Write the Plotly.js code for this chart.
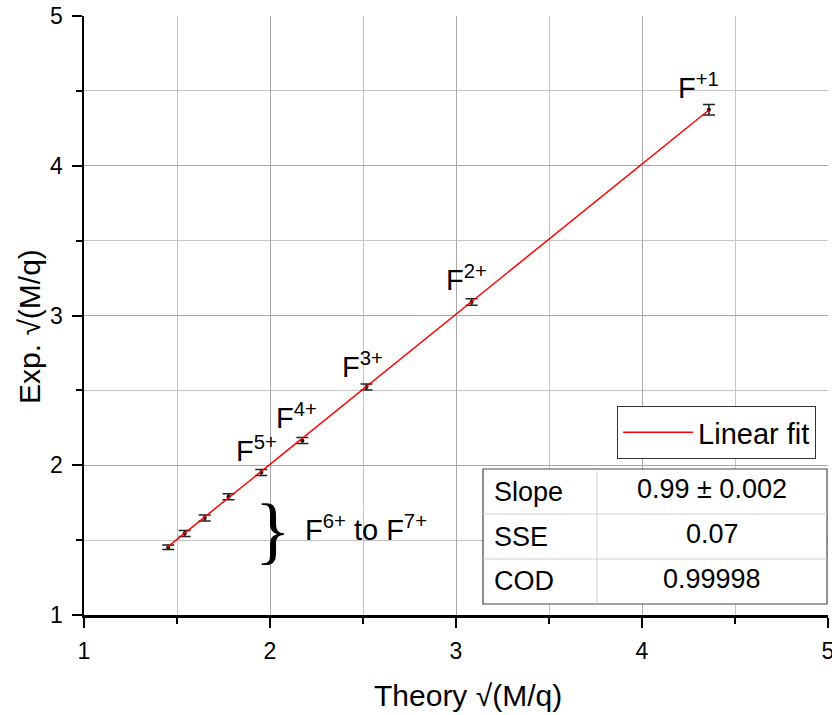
<!DOCTYPE html>
<html>
<head>
<meta charset="utf-8">
<script src="https://cdn.plot.ly/plotly-3.0.1.min.js"></script>
<style>html,body{margin:0;padding:0;background:#fff;}#chart{width:832px;height:715px;}</style>
</head>
<body>
<div id="chart"></div>
<script>
// Data
const theory = [1.453, 1.541, 1.649, 1.777, 1.953, 2.174, 2.519, 3.084, 4.360];
const experiment = [1.452, 1.545, 1.648, 1.790, 1.952, 2.165, 2.522, 3.090, 4.374];
const expError = [0.015, 0.02, 0.02, 0.02, 0.02, 0.02, 0.02, 0.022, 0.035];
const fitX = [1.447, 4.360];
const fitY = [1.452, 4.372];
const chargeLabels = ['F<sup>+1</sup>', 'F<sup>2+</sup>', 'F<sup>3+</sup>', 'F<sup>4+</sup>', 'F<sup>5+</sup>', 'F<sup>6+</sup> to F<sup>7+</sup>'];
const labelX = [4.306, 3.054, 2.495, 2.145, 1.925, 2.516];
const labelY = [4.406, 3.124, 2.543, 2.202, 1.982, 1.454];
const tableNames = ['Slope', 'SSE', 'COD'];
const tableValues = ['0.99 ± 0.002', '0.07', '0.99998'];
const xTitle = 'Theory √(M/q)';
const yTitle = 'Exp. √(M/q)';

const FONT = '"Liberation Sans", Arial, sans-serif';

const traces = [
  {
    x: theory, y: experiment, type: 'scatter', mode: 'markers',
    marker: {color: '#000', size: 4},
    error_y: {type: 'data', array: expError, visible: true, color: '#222', thickness: 1.5, width: 6},
    showlegend: false, name: 'Data'
  },
  {
    x: fitX, y: fitY, type: 'scatter', mode: 'lines',
    line: {color: '#ff0000', width: 1.5},
    name: 'Linear fit', showlegend: true
  }
];

// table geometry in paper coordinates
const tX0 = 0.5363, tX1 = 0.9987, tXc = 0.6895;
const tYs = [0.2437, 0.1686, 0.0935, 0.0184];

const shapes = [
  {type: 'rect', xref: 'paper', yref: 'paper', x0: tX0, x1: tX1, y0: tYs[3], y1: tYs[0],
   fillcolor: '#fff', line: {color: '#444', width: 1.2}, layer: 'above'},
  {type: 'line', xref: 'paper', yref: 'paper', x0: tX0, x1: tX1, y0: tYs[1], y1: tYs[1],
   line: {color: '#d0d0d0', width: 1}, layer: 'above'},
  {type: 'line', xref: 'paper', yref: 'paper', x0: tX0, x1: tX1, y0: tYs[2], y1: tYs[2],
   line: {color: '#d0d0d0', width: 1}, layer: 'above'},
  {type: 'line', xref: 'paper', yref: 'paper', x0: tXc, x1: tXc, y0: tYs[3], y1: tYs[0],
   line: {color: '#d0d0d0', width: 1}, layer: 'above'}
];

const annotations = [];
chargeLabels.forEach((t, i) => {
  annotations.push({x: labelX[i], y: labelY[i], xref: 'x', yref: 'y', text: t, showarrow: false,
    xanchor: 'center', yanchor: 'bottom', borderpad: 0,
    font: {family: FONT, size: 29, color: '#000'}});
});
// curly brace
annotations.push({x: 2.016, y: 1.568, xref: 'x', yref: 'y', text: '}', showarrow: false,
  xanchor: 'center', yanchor: 'middle', font: {family: '"Liberation Serif", "Times New Roman", serif', size: 74, color: '#000'}});
// table text
tableNames.forEach((t, i) => {
  const yc = (tYs[i] + tYs[i + 1]) / 2;
  annotations.push({x: 0.548, y: yc, xref: 'paper', yref: 'paper', text: t, showarrow: false,
    xanchor: 'left', yanchor: 'middle', font: {family: FONT, size: 27, color: '#000'}});
  annotations.push({x: (tXc + tX1) / 2, y: yc + 0.004, xref: 'paper', yref: 'paper', text: tableValues[i], showarrow: false,
    xanchor: 'center', yanchor: 'middle', font: {family: FONT, size: 27, color: '#000'}});
});
// axis titles
annotations.push({x: 0.516, y: -0.1336, xref: 'paper', yref: 'paper', text: xTitle, showarrow: false,
  xanchor: 'center', yanchor: 'middle', font: {family: FONT, size: 30, color: '#000'}});
annotations.push({x: -0.0726, y: 0.4825, xref: 'paper', yref: 'paper', text: yTitle, showarrow: false,
  textangle: -90, xanchor: 'center', yanchor: 'middle', font: {family: FONT, size: 30, color: '#000'}});

const axisCommon = {
  range: [1, 5], tick0: 1, dtick: 1,
  showline: true, linecolor: '#000', linewidth: 2.5,
  ticks: 'outside', ticklen: 10, tickwidth: 2, tickcolor: '#000',
  showgrid: true, gridcolor: '#a8a8a8', gridwidth: 1,
  zeroline: false, mirror: false,
  ticklabeloverflow: 'allow',
  tickfont: {family: FONT, size: 23, color: '#000'},
  minor: {dtick: 0.5, tick0: 1, ticks: 'outside', ticklen: 6, tickwidth: 2, tickcolor: '#000',
          showgrid: true, gridcolor: '#c4c4c4', gridwidth: 1}
};

const layout = {
  width: 832, height: 715,
  margin: {l: 84, r: 4, t: 16, b: 100},
  paper_bgcolor: '#fff', plot_bgcolor: '#fff',
  font: {family: FONT, color: '#000'},
  xaxis: Object.assign({}, axisCommon, {ticklabelstandoff: 4}),
  yaxis: Object.assign({}, axisCommon, {ticklabelstandoff: 4}),
  showlegend: true,
  legend: {x: 0.984, xanchor: 'right', y: 0.349, yanchor: 'top',
           bgcolor: '#fff', bordercolor: '#333', borderwidth: 1,
           font: {family: FONT, size: 29, color: '#000'}, itemwidth: 70},
  shapes: shapes,
  annotations: annotations
};

Plotly.newPlot('chart', traces, layout, {displayModeBar: false, staticPlot: true});
</script>
</body>
</html>
